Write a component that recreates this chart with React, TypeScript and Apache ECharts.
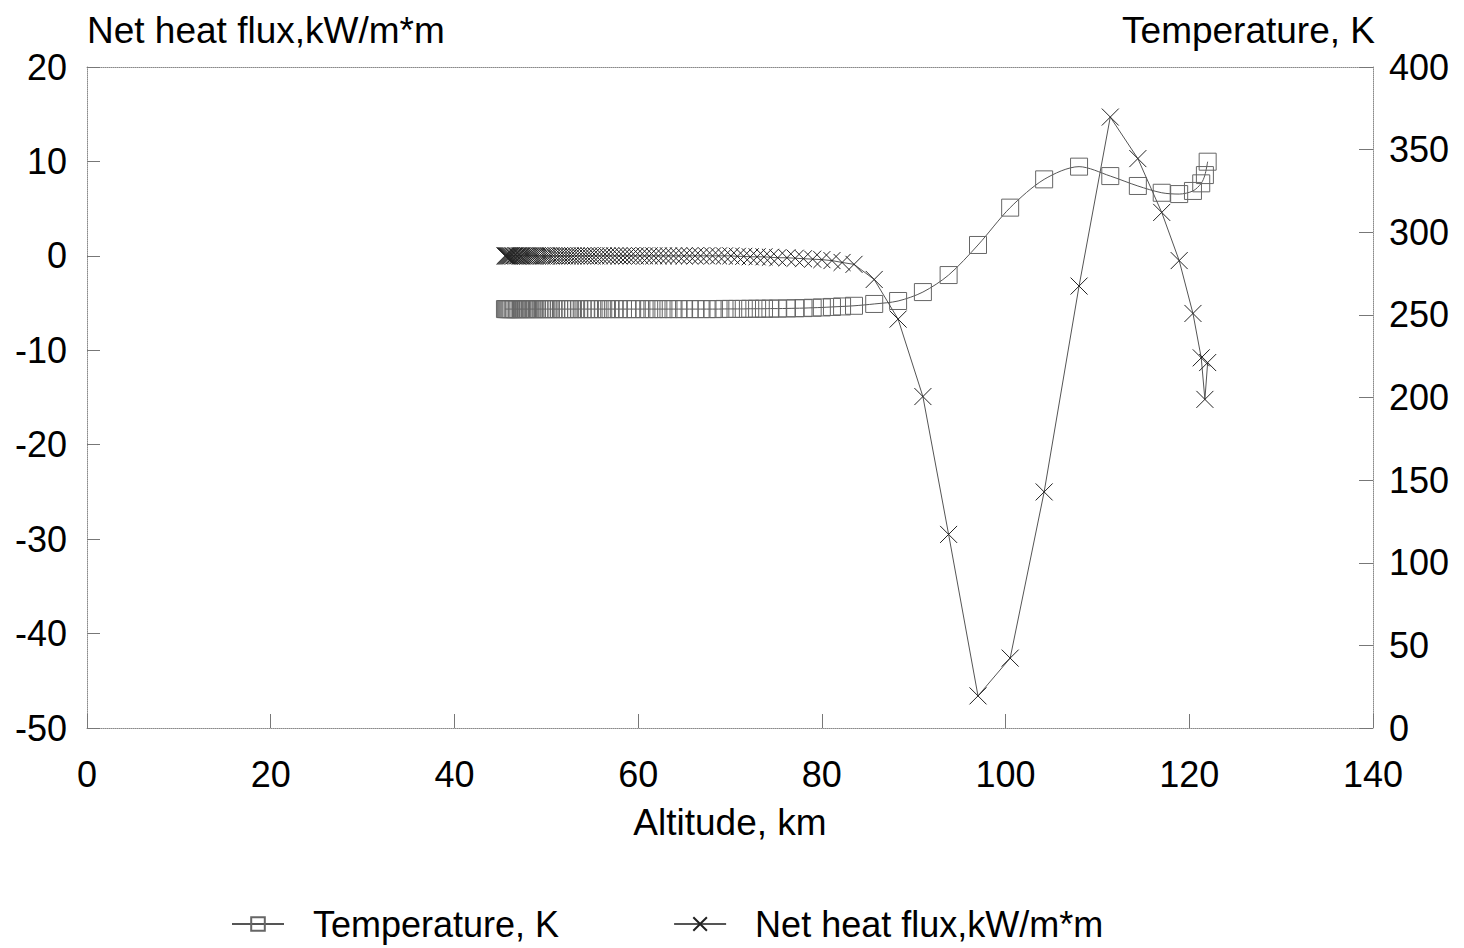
import React, { useEffect, useRef } from "react";
import * as echarts from "echarts";

// Altitude, km (shared by both series)
const altitude: number[] = [
  45.5, 45.6, 45.7, 45.8, 45.9, 46.0, 46.1, 46.2, 46.35, 46.5, 46.65, 46.8, 46.95, 47.1,
  47.25, 47.4, 47.6, 47.8, 48.0, 48.2, 48.4, 48.6, 48.8, 49.0, 49.25, 49.5, 49.75, 50.0,
  50.25, 50.5, 50.8, 51.1, 51.4, 51.7, 52.0, 52.3, 52.6, 52.9, 53.25, 53.6, 53.95, 54.3,
  54.65, 55.0,
  55.4, 55.8, 56.2, 56.6, 57.0, 57.45, 57.9, 58.35, 58.8, 59.25, 59.7, 60.2,
  60.7, 61.2, 61.7, 62.2, 62.75, 63.3, 63.85, 64.4, 65.0, 65.6, 66.2, 66.8,
  67.45, 68.1, 68.75, 69.4, 70.1, 70.8, 71.5, 72.2, 72.95, 73.7, 74.4,
  75.2, 76.2, 77.1, 78.0, 79.0, 80.0, 81.1, 82.2, 83.5,
  85.7, 88.3, 91.0, 93.8, 97.0, 100.5, 104.2, 108.0, 111.4, 114.4, 117.0, 118.9,
  120.4, 121.3, 121.7, 122.0,
];

// Temperature, K (right axis)
const temperature: number[] = [
  253.5, 253.5, 253.5, 253.5, 253.5, 253.5, 253.5, 253.5, 253.5, 253.5, 253.5, 253.5, 253.5, 253.5,
  253.5, 253.5, 253.5, 253.5, 253.5, 253.5, 253.5, 253.5, 253.5, 253.5, 253.5, 253.5, 253.5, 253.5,
  253.5, 253.5, 253.5, 253.5, 253.5, 253.5, 253.5, 253.5, 253.5, 253.5, 253.5, 253.5, 253.5, 253.5,
  253.5, 253.5,
  253.5, 253.5, 253.5, 253.5, 253.5, 253.5, 253.5, 253.5, 253.5, 253.5, 253.5, 253.5,
  253.5, 253.5, 253.5, 253.5, 253.5, 253.5, 253.5, 253.5, 253.5, 253.5, 253.5, 253.5,
  253.5, 253.5, 253.5, 253.6, 253.6, 253.6, 253.6, 253.7, 253.7, 253.7, 253.8,
  253.8, 253.9, 254.0, 254.1, 254.3, 254.5, 254.8, 255.1, 255.5,
  256.6, 258.4, 263.8, 274.1, 292.3, 314.9, 332.0, 339.7, 334.0, 328.0, 323.9, 323.1,
  325.0, 329.6, 334.6, 342.7,
];

// Net heat flux, kW/m*m (left axis)
const netHeatFlux: number[] = [
  0, 0, 0, 0, 0, 0, 0, 0, 0, 0, 0, 0, 0, 0,
  0, 0, 0, 0, 0, 0, 0, 0, 0, 0, 0, 0, 0, 0,
  0, 0, 0, 0, 0, 0, 0, 0, 0, 0, 0, 0, 0, 0,
  0, 0,
  0, 0, 0, 0, 0, 0, 0, 0, 0, 0, 0, 0,
  0, 0, 0, 0, 0, 0, 0, 0, 0, 0, 0, 0,
  0, 0, 0, 0, 0, -0.05, -0.05, -0.1, -0.1, -0.1, -0.15,
  -0.2, -0.2, -0.25, -0.3, -0.35, -0.4, -0.5, -0.7, -0.9,
  -2.5, -6.7, -14.9, -29.5, -46.6, -42.6, -25.0, -3.2, 14.7, 10.3, 4.6, -0.5,
  -6.1, -10.8, -15.2, -11.3,
];

const seriesNames = ["Temperature, K", "Net heat flux,kW/m*m"];
const xTitle = "Altitude, km";
const leftTitle = "Net heat flux,kW/m*m";
const rightTitle = "Temperature, K";

const FONT = "Liberation Sans, Arial, Helvetica, sans-serif";
const CROSS = "path://M0,0L20,20M20,0L0,20";

export default function App() {
  const ref = useRef<HTMLDivElement>(null);
  useEffect(() => {
    if (!ref.current) return;
    const chart = echarts.init(ref.current, undefined, { renderer: "svg" });
    const tempData = altitude.map((a, i) => [a, temperature[i]]);
    const fluxData = altitude.map((a, i) => [a, netHeatFlux[i]]);
    const axisLine = {
      show: true,
      onZero: false,
      lineStyle: { color: "#8a8a8a", width: 1, type: "dotted" as const },
    };
    const tickStyle = { color: "#777", width: 1 };
    chart.setOption({
      animation: false,
      backgroundColor: "#ffffff",
      textStyle: { fontFamily: FONT },
      grid: { left: 87, right: 91, top: 67, bottom: 220, containLabel: false, outerBoundsMode: "none" },
      legend: {
        left: 226,
        top: 899,
        itemWidth: 52,
        itemHeight: 17,
        itemGap: 114,
        textStyle: { fontFamily: FONT, fontSize: 36, lineHeight: 40, color: "#000", padding: [0, 0, 0, 24] },
        data: seriesNames,
      },
      graphic: [
        {
          type: "text",
          left: 87,
          top: 12,
          style: { text: leftTitle, font: `37px ${FONT}`, fill: "#000" },
        },
        {
          type: "text",
          right: 89,
          top: 12,
          style: { text: rightTitle, font: `37px ${FONT}`, fill: "#000" },
        },
      ],
      xAxis: [
        {
          type: "value",
          min: 0,
          max: 140,
          interval: 20,
          position: "bottom",
          name: xTitle,
          nameLocation: "middle",
          nameGap: 76,
          nameTextStyle: { fontFamily: FONT, fontSize: 37, color: "#000" },
          axisLine,
          axisTick: { show: true, inside: true, length: 14, lineStyle: tickStyle },
          axisLabel: { fontFamily: FONT, fontSize: 36, color: "#000", margin: 28 },
          splitLine: { show: false },
        },
        {
          type: "value",
          min: 0,
          max: 140,
          position: "top",
          axisLine,
          axisTick: { show: false },
          axisLabel: { show: false },
          splitLine: { show: false },
        },
      ],
      yAxis: [
        {
          type: "value",
          min: -50,
          max: 20,
          interval: 10,
          position: "left",
          axisLine,
          axisTick: { show: true, inside: true, length: 13, lineStyle: tickStyle },
          axisLabel: { fontFamily: FONT, fontSize: 36, color: "#000", margin: 20 },
          splitLine: { show: false },
        },
        {
          type: "value",
          min: 0,
          max: 400,
          interval: 50,
          position: "right",
          axisLine,
          axisTick: { show: true, inside: true, length: 14, lineStyle: tickStyle },
          axisLabel: { fontFamily: FONT, fontSize: 36, color: "#000", margin: 16 },
          splitLine: { show: false },
        },
      ],
      series: [
        {
          name: seriesNames[0],
          type: "line",
          xAxisIndex: 0,
          yAxisIndex: 1,
          data: tempData,
          smooth: 0.3,
          symbol: "rect",
          symbolSize: 17,
          showAllSymbol: true,
          lineStyle: { color: "#555", width: 1 },
          itemStyle: { color: "rgba(255,255,255,0)", borderColor: "#666", borderWidth: 1 },
          z: 3,
        },
        {
          name: seriesNames[1],
          type: "line",
          xAxisIndex: 0,
          yAxisIndex: 0,
          data: fluxData,
          smooth: false,
          symbol: CROSS,
          symbolSize: 17,
          showAllSymbol: true,
          lineStyle: { color: "#555", width: 1 },
          itemStyle: { color: "rgba(255,255,255,0)", borderColor: "#222", borderWidth: 1 },
          z: 4,
        },
      ],
    });
    return () => chart.dispose();
  }, []);
  return (
    <div
      ref={ref}
      style={{ position: "fixed", left: 0, top: 0, width: "1464px", height: "948px", background: "#fff" }}
    />
  );
}
